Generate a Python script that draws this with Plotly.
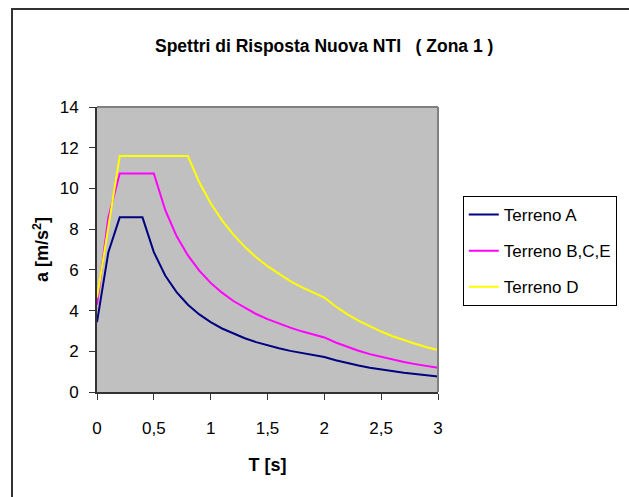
import plotly.graph_objects as go

# Period T [s]
periodo = [0.0, 0.1, 0.2, 0.3, 0.4, 0.5, 0.6, 0.7, 0.8, 0.9, 1.0,
           1.1, 1.2, 1.3, 1.4, 1.5, 1.6, 1.7, 1.8, 1.9, 2.0,
           2.1, 2.2, 2.3, 2.4, 2.5, 2.6, 2.7, 2.8, 2.9, 3.0]

# Spectral acceleration a [m/s^2] for each soil class
terreno_a = [3.43, 6.87, 8.58, 8.58, 8.58, 6.87, 5.72, 4.91, 4.29, 3.81, 3.43,
             3.12, 2.86, 2.64, 2.45, 2.29, 2.15, 2.02, 1.91, 1.81, 1.72,
             1.56, 1.42, 1.30, 1.19, 1.10, 1.02, 0.94, 0.88, 0.82, 0.76]
terreno_bce = [4.29, 8.58, 10.73, 10.73, 10.73, 10.73, 8.94, 7.66, 6.71, 5.96, 5.36,
               4.88, 4.47, 4.13, 3.83, 3.58, 3.35, 3.16, 2.98, 2.82, 2.68,
               2.43, 2.22, 2.03, 1.86, 1.72, 1.59, 1.47, 1.37, 1.28, 1.19]
terreno_d = [4.63, 8.11, 11.59, 11.59, 11.59, 11.59, 11.59, 11.59, 11.59, 10.30, 9.27,
             8.43, 7.73, 7.13, 6.62, 6.18, 5.80, 5.45, 5.15, 4.88, 4.64,
             4.20, 3.83, 3.51, 3.22, 2.97, 2.74, 2.54, 2.37, 2.20, 2.06]

serie_nomi = ["Terreno A", "Terreno B,C,E", "Terreno D"]
serie_colori = ["#000080", "#FF00FF", "#FFFF00"]

x_tick_vals = [0, 0.5, 1, 1.5, 2, 2.5, 3]
x_tick_text = ["0", "0,5", "1", "1,5", "2", "2,5", "3"]
y_tick_vals = [0, 2, 4, 6, 8, 10, 12, 14]

FONT = "Liberation Sans, Arial, sans-serif"
FS = 17

fig = go.Figure()
for nome, valori, colore in zip(serie_nomi, [terreno_a, terreno_bce, terreno_d], serie_colori):
    fig.add_trace(go.Scatter(
        x=periodo, y=valori, mode="lines", name=nome,
        line=dict(color=colore, width=2), legendgroup=nome,
    ))

W, H = 629, 497
L, R, T, B = 96.5, 447.5, 107, 392
pw, ph = R - L, B - T

def px_x(p):
    return (p - L) / pw

def px_y(p):
    return (B - p) / ph

fig.update_layout(
    width=W, height=H,
    margin=dict(l=L, r=W - R, t=T, b=H - B, pad=0),
    paper_bgcolor="white",
    plot_bgcolor="#C0C0C0",
    font=dict(family=FONT, size=FS, color="black"),
    title=dict(
        text="<b>Spettri di Risposta Nuova NTI   ( Zona 1 )</b>",
        x=155 / W, xanchor="left", y=1 - 46 / H, yanchor="middle",
        font=dict(family=FONT, size=17.5, color="black"),
    ),
    showlegend=True,
    legend=dict(
        x=px_x(473), xanchor="left", y=px_y(196), yanchor="top",
        bgcolor="white", bordercolor="black", borderwidth=1,
        font=dict(family=FONT, size=FS, color="black"),
        tracegroupgap=11, itemwidth=30,
    ),
    xaxis=dict(
        range=[0, 3], tickvals=x_tick_vals, ticktext=x_tick_text,
        showgrid=False, zeroline=False,
        showline=True, linecolor="#333333", linewidth=2,
        ticks="outside", ticklen=6, tickwidth=1, tickcolor="#333333",
        ticklabelstandoff=14,
        title=dict(text="<b>T [s]</b>", standoff=21,
                   font=dict(family=FONT, size=FS + 1)),
    ),
    yaxis=dict(
        range=[0, 14], tickvals=y_tick_vals,
        showgrid=False, zeroline=False,
        showline=True, linecolor="#333333", linewidth=2,
        ticks="outside", ticklen=6, tickwidth=1, tickcolor="#333333",
        ticklabelstandoff=7,
        title=dict(text="<b>a [m/s<sup>2</sup>]</b>", standoff=6,
                   font=dict(family=FONT, size=FS + 1)),
    ),
    shapes=[
        # grey frame on top and right of the plotting area
        dict(type="line", xref="paper", yref="paper", x0=0, x1=1, y0=1, y1=1,
             line=dict(color="#808080", width=2)),
        dict(type="line", xref="paper", yref="paper", x0=1, x1=1, y0=0, y1=1,
             line=dict(color="#808080", width=2)),
        # outer chart frame
        dict(type="rect", xref="paper", yref="paper",
             x0=px_x(9), x1=px_x(700), y0=px_y(560), y1=px_y(9),
             line=dict(color="#333333", width=2), layer="below"),
    ],
)

fig.write_html("out.html")
